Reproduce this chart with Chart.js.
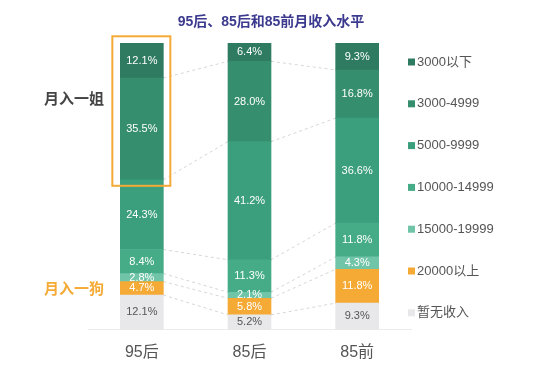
<!DOCTYPE html>
<html>
<head>
<meta charset="utf-8">
<script src="https://cdn.jsdelivr.net/npm/chart.js@4/dist/chart.umd.min.js"></script>
<style>
  html, body { margin: 0; padding: 0; background: #fff; }
  #wrap { width: 545px; height: 369px; }
</style>
</head>
<body>
<div id="wrap"><canvas id="incomeChart" width="545" height="369"></canvas></div>
<script>
// Data (bottom segment first)
const categories = ['95后', '85后', '85前'];
const bandNames = ['暂无收入', '20000以上', '15000-19999', '10000-14999', '5000-9999', '3000-4999', '3000以下'];
const noIncome = [12.1, 5.2, 9.3];
const over20000 = [4.7, 5.8, 11.8];
const band15000 = [2.8, 2.1, 4.3];
const band10000 = [8.4, 11.3, 11.8];
const band5000 = [24.3, 41.2, 36.6];
const band3000 = [35.5, 28.0, 16.8];
const under3000 = [12.1, 6.4, 9.3];

const bandValues = [noIncome, over20000, band15000, band10000, band5000, band3000, under3000];
const bandColors = ['#e8e8ea', '#f5aa36', '#70c4a8', '#46ac88', '#3b9e7c', '#358e6e', '#2e7b61'];
const labelColors = ['#555555', '#ffffff', '#ffffff', '#ffffff', '#ffffff', '#ffffff', '#ffffff'];

const FONT = '"Liberation Sans", "Noto Sans CJK SC", Arial, sans-serif';

const decorations = {
    id: 'decorations',
    beforeDatasetsDraw(chart) {
        // dashed series lines between neighbouring bars
        const ctx = chart.ctx;
        ctx.save();
        ctx.strokeStyle = '#d6d6d6';
        ctx.lineWidth = 1;
        ctx.setLineDash([3, 3]);
        for (let d = 0; d < bandValues.length - 1; d++) {
            const meta = chart.getDatasetMeta(d);
            for (let i = 0; i < categories.length - 1; i++) {
                const a = meta.data[i];
                const b = meta.data[i + 1];
                ctx.beginPath();
                ctx.moveTo(a.x + a.width / 2, a.y);
                ctx.lineTo(b.x - b.width / 2, b.y);
                ctx.stroke();
            }
        }
        ctx.restore();
    },
    afterDatasetsDraw(chart) {
        const ctx = chart.ctx;
        ctx.save();
        ctx.font = '11px ' + FONT;
        ctx.textAlign = 'center';
        ctx.textBaseline = 'middle';
        bandValues.forEach((vals, d) => {
            const meta = chart.getDatasetMeta(d);
            meta.data.forEach((bar, i) => {
                ctx.fillStyle = labelColors[d];
                ctx.fillText(vals[i].toFixed(1) + '%', bar.x, (bar.y + bar.base) / 2);
            });
        });

        // orange highlight box around the two top segments of 95后
        const top = chart.getDatasetMeta(6).data[0];
        const second = chart.getDatasetMeta(5).data[0];
        ctx.strokeStyle = '#f5aa36';
        ctx.lineWidth = 2;
        ctx.strokeRect(top.x - top.width / 2 - 8, top.y - 7, top.width + 15, second.base + 6 - (top.y - 7));
        ctx.restore();
    },
    afterDraw(chart) {
        const ctx = chart.ctx;
        ctx.save();
        // title
        ctx.textAlign = 'center';
        ctx.textBaseline = 'middle';
        ctx.fillStyle = '#3b3a8e';
        ctx.font = 'bold 14px ' + FONT;
        ctx.fillText('95后、85后和85前月收入水平', 271, 22);

        // side notes
        ctx.font = 'bold 15px ' + FONT;
        ctx.fillStyle = '#444444';
        ctx.fillText('月入一姐', 74, 100);
        ctx.fillStyle = '#f5aa36';
        ctx.fillText('月入一狗', 74, 290);

        // legend, top band first
        ctx.textAlign = 'left';
        ctx.font = '13px ' + FONT;
        for (let k = 0; k < bandNames.length; k++) {
            const d = bandNames.length - 1 - k;
            const y = 62 + k * 41.8;
            ctx.fillStyle = bandColors[d];
            ctx.fillRect(408, y - 3.5, 7, 7);
            ctx.fillStyle = '#555555';
            ctx.fillText(bandNames[d], 417, y);
        }
        ctx.restore();
    }
};

new Chart(document.getElementById('incomeChart'), {
    type: 'bar',
    data: {
        labels: categories,
        datasets: bandValues.map((vals, d) => ({
            label: bandNames[d],
            data: vals,
            backgroundColor: bandColors[d],
            borderWidth: 0,
            barThickness: 43
        }))
    },
    options: {
        responsive: false,
        animation: false,
        layout: {
            padding: { left: 88, right: 134, top: 43, bottom: -6 }
        },
        scales: {
            x: {
                stacked: true,
                grid: { display: false, drawTicks: false },
                border: { display: true, color: '#ececec', width: 1 },
                ticks: {
                    color: '#555555',
                    padding: 13,
                    font: { size: 16, family: FONT }
                }
            },
            y: {
                stacked: true,
                display: false,
                min: 0,
                max: 100
            }
        },
        plugins: {
            legend: { display: false },
            tooltip: { enabled: false }
        }
    },
    plugins: [decorations]
});
</script>
</body>
</html>
